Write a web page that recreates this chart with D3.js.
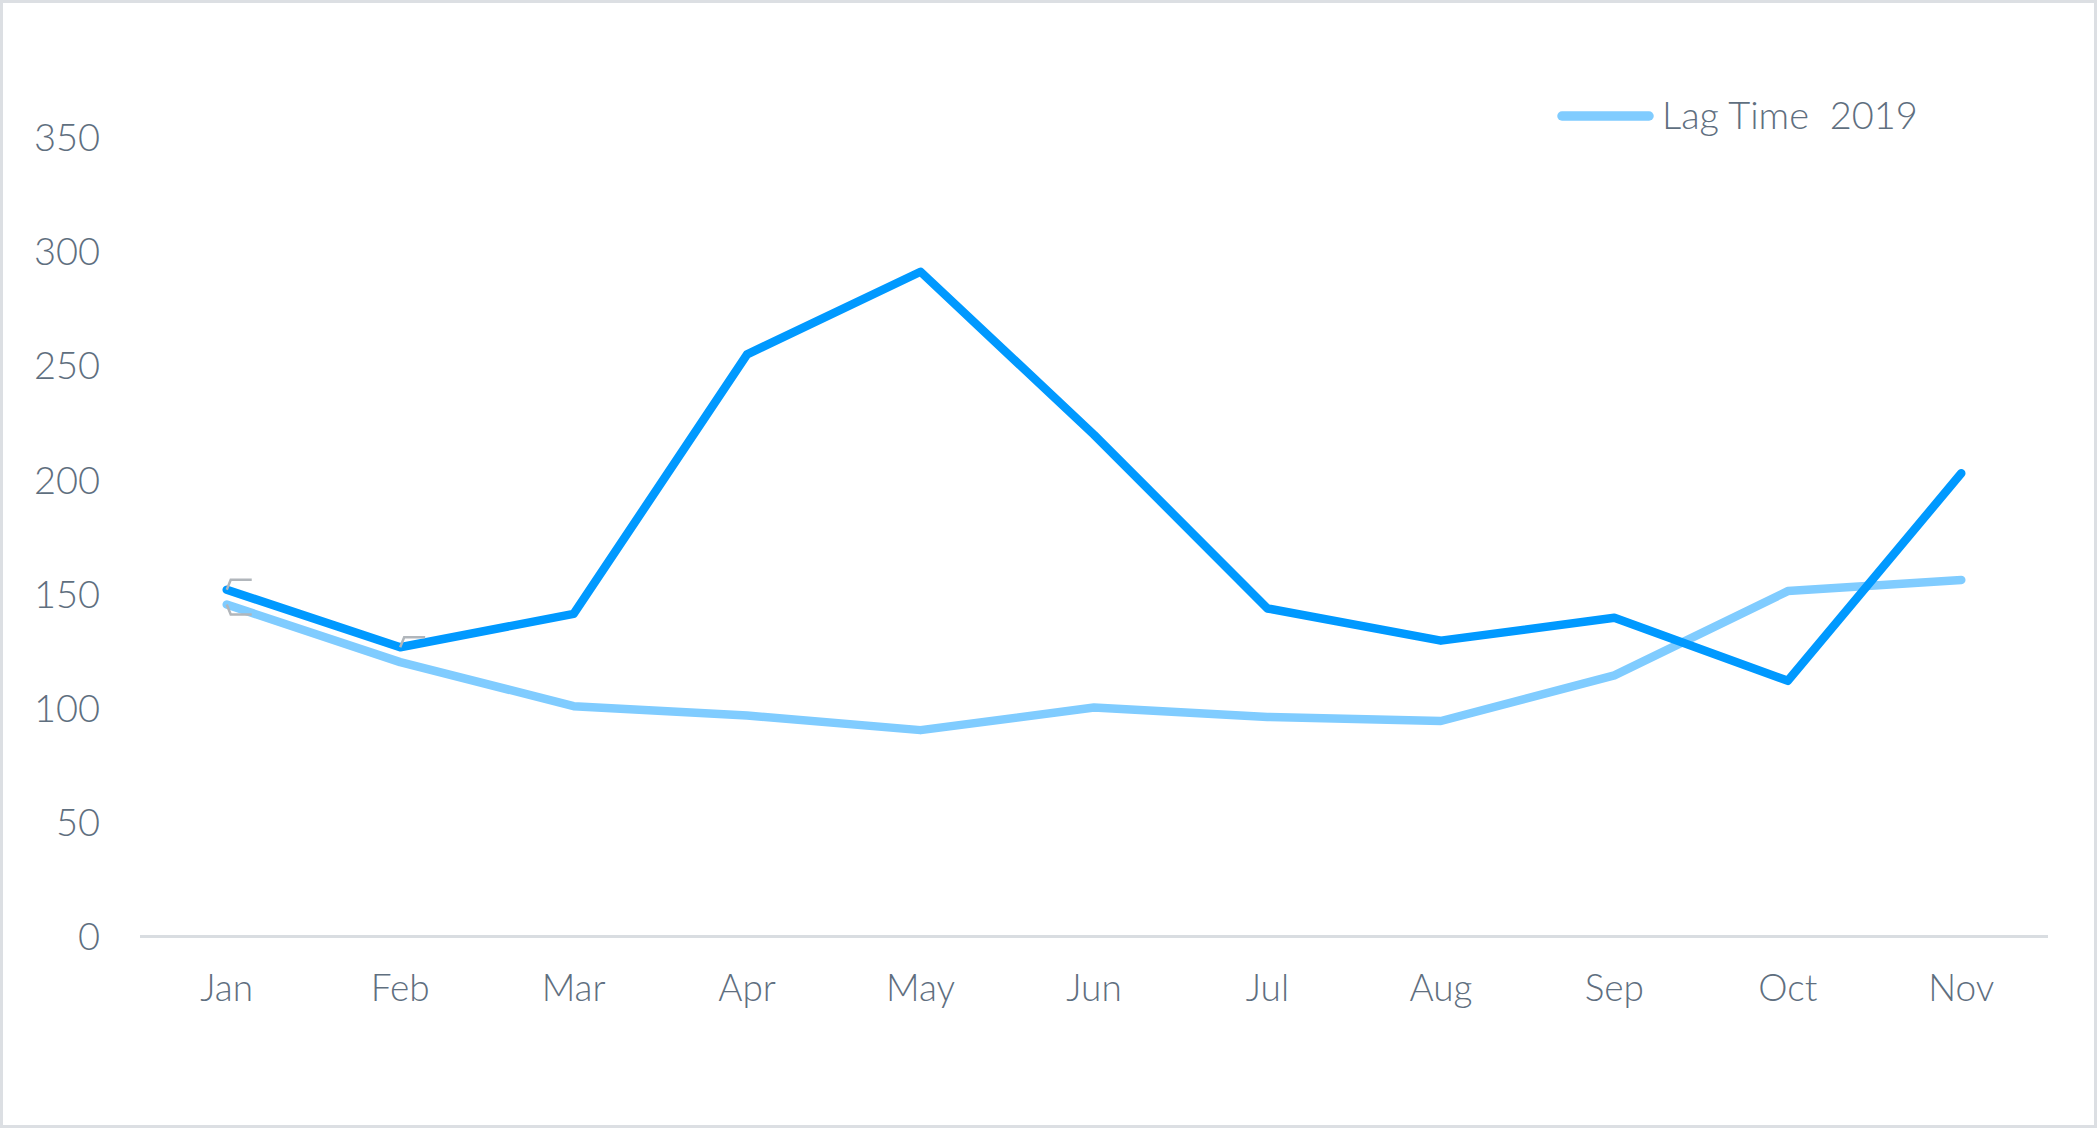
<!DOCTYPE html>
<html>
<head>
<meta charset="utf-8">
<script src="https://cdn.jsdelivr.net/npm/d3@7"></script>
<style>
  html, body { margin: 0; padding: 0; background: #fff; }
  svg { display: block; }
  text { font-family: Lato, "Open Sans", sans-serif; font-weight: 300; }
</style>
</head>
<body>
<svg id="chart" width="2097" height="1128"></svg>
<script>
// ---- data ----
const months = ["Jan","Feb","Mar","Apr","May","Jun","Jul","Aug","Sep","Oct","Nov"];
const lagTime2019 = [145.4, 120.2, 100.9, 96.8, 90.4, 100.3, 96.2, 94.4, 114.4, 151.3, 156.2];
const lagTime2020 = [151.9, 126.7, 141.3, 255.0, 291.2, 219.8, 143.7, 129.6, 139.6, 112.0, 202.9];
const yTicks = [0, 50, 100, 150, 200, 250, 300, 350];
const legendLabel = "Lag Time\u00a0 2019";

// ---- layout ----
const W = 2097, H = 1128;
const svg = d3.select("#chart");

svg.append("rect")
  .attr("x", 1.5).attr("y", 1.5)
  .attr("width", W - 3).attr("height", H - 3)
  .attr("fill", "#fff").attr("stroke", "#dcdfe3").attr("stroke-width", 3);

const x = d3.scalePoint().domain(months).range([140, 2048]).padding(0.5);
const y = d3.scaleLinear().domain([0, 350]).range([936.5, 137.5]);

// baseline axis line
svg.append("line")
  .attr("x1", 140).attr("x2", 2048)
  .attr("y1", y(0)).attr("y2", y(0))
  .attr("stroke", "#d9dde1").attr("stroke-width", 3);

// y tick labels
svg.append("g").selectAll("text").data(yTicks).join("text")
  .attr("x", 100).attr("y", d => y(d))
  .attr("dy", "0.36em")
  .attr("text-anchor", "end")
  .attr("font-size", 38)
  .attr("fill", "#5f6f7f")
  .text(d => d);

// x tick labels
svg.append("g").selectAll("text").data(months).join("text")
  .attr("x", d => x(d)).attr("y", 1001)
  .attr("text-anchor", "middle")
  .attr("font-size", 37)
  .attr("fill", "#5f6f7f")
  .text(d => d);

const line = d3.line()
  .x((d, i) => x(months[i]))
  .y(d => y(d));

svg.append("path")
  .datum(lagTime2019)
  .attr("d", line)
  .attr("fill", "none")
  .attr("stroke", "#80ccff")
  .attr("stroke-width", 8.5)
  .attr("stroke-linejoin", "round")
  .attr("stroke-linecap", "round");

svg.append("path")
  .datum(lagTime2020)
  .attr("d", line)
  .attr("fill", "none")
  .attr("stroke", "#0099ff")
  .attr("stroke-width", 8.5)
  .attr("stroke-linejoin", "round")
  .attr("stroke-linecap", "round");

// small leftover data-label leader lines
const leaders = [
  { m: "Jan", v: lagTime2020[0], dir: -1 },
  { m: "Jan", v: lagTime2019[0], dir: 1 },
  { m: "Feb", v: lagTime2020[1], dir: -1 }
];
svg.append("g").selectAll("path").data(leaders).join("path")
  .attr("d", d => {
    const px = x(d.m), py = y(d.v);
    return `M${px},${py} L${px + 4},${py + d.dir * 10} L${px + 25},${py + d.dir * 10}`;
  })
  .attr("fill", "none")
  .attr("stroke", "#b1b6bb")
  .attr("stroke-width", 2.5);

// legend
const lg = svg.append("g").attr("transform", "translate(1557,116)");
lg.append("line")
  .attr("x1", 5).attr("x2", 92)
  .attr("y1", 0).attr("y2", 0)
  .attr("stroke", "#80ccff").attr("stroke-width", 9.5)
  .attr("stroke-linecap", "round");
lg.append("text")
  .attr("x", 105).attr("y", 13)
  .attr("font-size", 38)
  .attr("fill", "#5f6f7f")
  .text(legendLabel);
</script>
</body>
</html>
